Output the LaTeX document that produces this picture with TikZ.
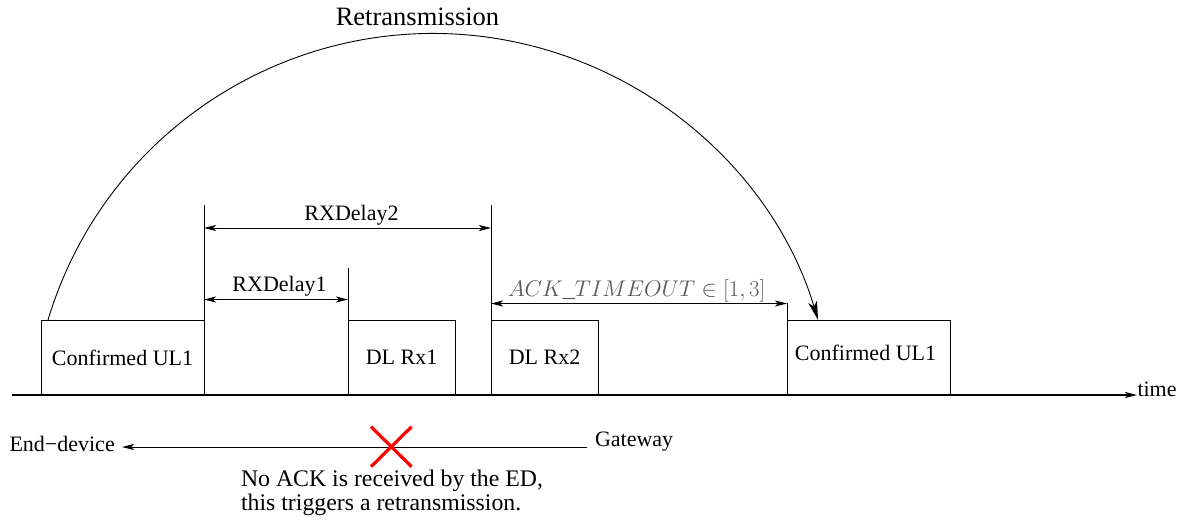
\documentclass[tikz,border=0pt]{standalone}
\usepackage{fontspec}
\setmainfont{Liberation Serif}
\usetikzlibrary{arrows.meta}
\tikzset{
  every node/.style={font=\rmfamily\fontsize{22}{24}\selectfont, inner sep=0pt, outer sep=0pt},
  slot/.style={draw, line width=0.9pt, minimum height=75pt},
  thin/.style={line width=0.9pt},
  dim/.style={line width=0.9pt, {Stealth[length=12pt,width=6pt,inset=3pt]}-{Stealth[length=12pt,width=6pt,inset=3pt]}},
  tip/.style={-{Stealth[length=12pt,width=6pt,inset=3pt]}},
  bigtip/.style={-{Stealth[length=19pt,width=9pt,inset=5pt]}},
  cross/.style={draw=red, line width=3.2pt},
}
\begin{document}
\begin{tikzpicture}[x=1pt,y=-1pt]
\useasboundingbox (0,0) rectangle (1187,520);
% boxes
\node[slot, minimum width=163pt] (ul1) at (122.5,357.5) {Confirmed UL1};
\node[slot, minimum width=107pt] (rx1) at (401.5,357.5) {DL Rx1};
\node[slot, minimum width=107pt] (rx2) at (544.5,357.5) {DL Rx2};
\node[slot, minimum width=163pt] (ul2) at (868.5,357.5) {};
\node (ul2t) at (865.5,352.5) {Confirmed UL1};
% vertical markers
\coordinate (t1) at (204,205);
\coordinate (t2) at (348,268);
\coordinate (t3) at (491,205);
\coordinate (t4) at (787,303);
\draw[thin] (ul1.north east) -- (t1);
\draw[thin] (rx1.north west) -- (t2);
\draw[thin] (rx2.north west) -- (t3);
\draw[thin] (ul2.north west) -- (t4);
% dimension arrows
\coordinate (d2a) at (204,228); \coordinate (d2b) at (491,228);
\coordinate (d1a) at (204,299.5); \coordinate (d1b) at (348,299.5);
\coordinate (d3a) at (491,303.5); \coordinate (d3b) at (787,303.5);
\draw[dim] (d2a) -- (d2b);
\draw[dim] (d1a) -- (d1b);
\draw[dim] (d3a) -- (d3b);
\node[anchor=base] (l2) at (351.5,220) {RXDelay2};
\node[anchor=base] (l1) at (279.5,291.5) {RXDelay1};
\node[anchor=base west, text=black!65] (l3) at (508,296) {\scalebox{1.095}{$ACK\_TIMEOUT \in [1,3]$}};
% time axis
\coordinate (ax0) at (12,395);
\coordinate (ax1) at (1137,395);
\node[anchor=base west] (time) at (1137.5,396) {time};
\draw[line width=1.1pt, tip] (ax0) -- (ax1);
% retransmission arc
\coordinate (arcS) at (48,320);
\draw[thin, bigtip] (arcS) arc[start angle=196.7, end angle=343.3, radius=402];
\node[anchor=base, font=\rmfamily\fontsize{26.5}{28}\selectfont] (rt) at (417.5,25) {Retransmission};
% end-device / gateway
\node[anchor=base west] (ed) at (9.5,451) {End\textminus device};
\node[anchor=base west] (gw) at (595,446) {Gateway};
\coordinate (gwl) at (587,447);
\coordinate (edr) at (122,447);
\draw[thin, tip] (gwl) -- (edr);
\draw[cross] (371,426.7) -- (411.6,466.7);
\draw[cross] (371,466.7) -- (411.6,426.7);
\node[anchor=base west, align=left, font=\rmfamily\fontsize{23.8}{24}\selectfont] (note) at (241,510.7) {No ACK is received by the ED,\\this triggers a retransmission.};
\end{tikzpicture}
\end{document}
